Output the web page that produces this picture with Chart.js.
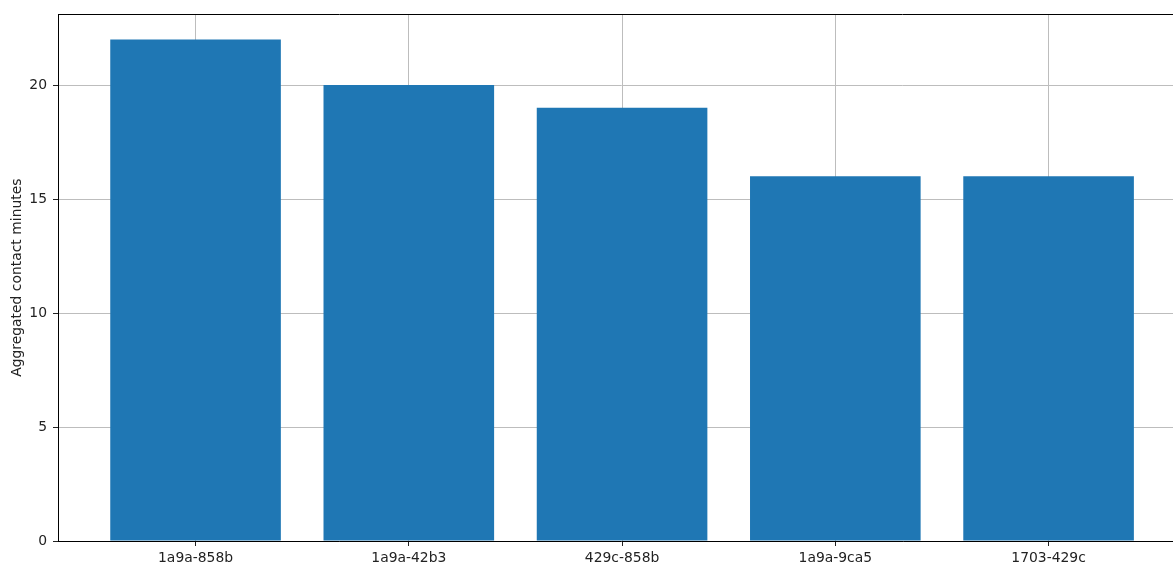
<!DOCTYPE html>
<html>
<head>
<meta charset="utf-8">
<script src="https://cdn.jsdelivr.net/npm/chart.js@4/dist/chart.umd.min.js"></script>
<style>
  html, body { margin: 0; padding: 0; background: #fff; overflow: hidden; }
</style>
</head>
<body>
<canvas id="canvas-chart" width="1200" height="563"></canvas>
<script>
// contact pairs and their summed minutes
const pairs = ["1a9a-858b", "1a9a-42b3", "429c-858b", "1a9a-9ca5", "1703-429c"];
const minutes = [22, 20, 19, 16, 16];
const yTicks = [0, 5, 10, 15, 20];
const yMax = 23.1;

const font = { family: "DejaVu Sans", size: 13.9 };

// frame line along the top of the plot
const topFrame = {
  id: "topFrame",
  afterDraw(chart) {
    const { ctx, chartArea } = chart;
    ctx.save();
    ctx.strokeStyle = "#000";
    ctx.lineWidth = 1;
    ctx.beginPath();
    ctx.moveTo(chartArea.left, Math.round(chartArea.top) + 0.5);
    ctx.lineTo(chartArea.right, Math.round(chartArea.top) + 0.5);
    ctx.stroke();
    ctx.restore();
  },
};

const ctx = document.getElementById("canvas-chart").getContext("2d");
new Chart(ctx, {
  type: "bar",
  data: {
    datasets: [
      {
        data: pairs.map((p, i) => ({ x: i, y: minutes[i] })),
        backgroundColor: "#1f77b4",
        borderWidth: 0,
        categoryPercentage: 1,
        barPercentage: 0.8,
      },
    ],
  },
  options: {
    responsive: false,
    animation: false,
    layout: { padding: { top: 14, right: 16, left: 0, bottom: 0 } },
    plugins: { legend: { display: false }, tooltip: { enabled: false } },
    scales: {
      x: {
        type: "linear",
        min: -0.645,
        max: 4.635,
        offset: false,
        z: 1,
        afterBuildTicks: (scale) => {
          scale.ticks = pairs.map((p, i) => ({ value: i }));
        },
        afterFit: (scale) => { scale.height = 22; },
        ticks: {
          color: "#222",
          font: font,
          padding: 4,
          maxRotation: 0,
          autoSkip: false,
          callback: (v) => pairs[v],
        },
        grid: {
          offset: false,
          color: "#bdbdbd",
          lineWidth: 1,
          tickColor: "#222",
          tickLength: 5,
        },
        border: { color: "#000", width: 1 },
      },
      y: {
        min: 0,
        max: yMax,
        z: 1,
        afterBuildTicks: (scale) => {
          scale.ticks = yTicks.map((v) => ({ value: v }));
        },
        afterFit: (scale) => { scale.width = 58; },
        ticks: { color: "#222", font: font, padding: 6 },
        grid: {
          color: "#bdbdbd",
          lineWidth: 1,
          tickColor: "#222",
          tickLength: 5,
        },
        border: { color: "#000", width: 1 },
        title: {
          display: true,
          text: "Aggregated contact minutes",
          color: "#222",
          font: font,
          padding: { top: 9, bottom: 0 },
        },
      },
    },
  },
  plugins: [topFrame],
});
</script>
</body>
</html>
